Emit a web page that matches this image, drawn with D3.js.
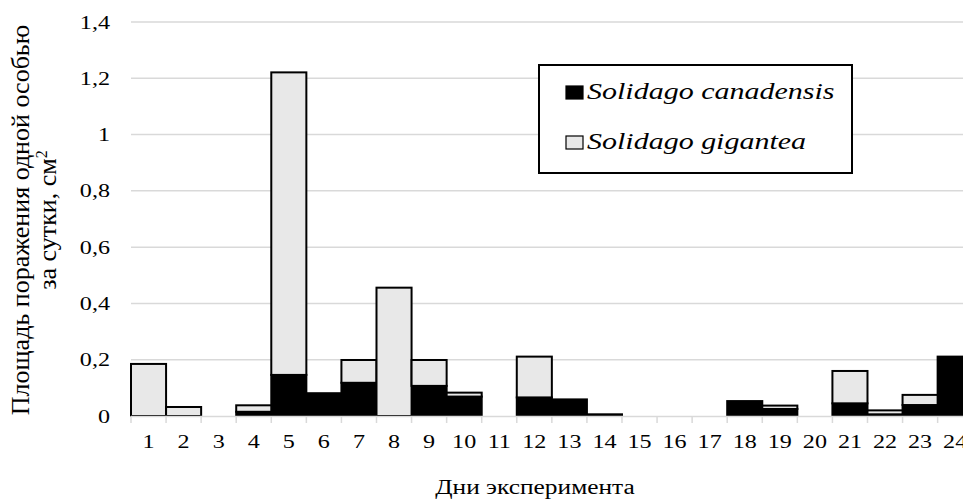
<!DOCTYPE html>
<html><head><meta charset="utf-8">
<script src="https://cdn.jsdelivr.net/npm/d3@7"></script>
<style>html,body{margin:0;padding:0;background:#fff;}</style></head>
<body><svg id="chart" width="963" height="499"></svg>
<script>
const days = ["1","2","3","4","5","6","7","8","9","10","11","12","13","14","15","16","17","18","19","20","21","22","23","24"];
const canadensis = [0, 0, 0, 0.015, 0.146, 0.081, 0.118, 0, 0.107, 0.069, 0, 0.066, 0.059, 0.006, 0, 0, 0, 0.053, 0.025, 0, 0.045, 0.006, 0.039, 0.211];
const gigantea = [0.185, 0.032, 0, 0.023, 1.075, 0, 0.081, 0.456, 0.092, 0.014, 0, 0.145, 0, 0, 0, 0, 0, 0, 0.012, 0, 0.115, 0.014, 0.036, 0];
const yTicks = [0, 0.2, 0.4, 0.6, 0.8, 1, 1.2, 1.4];
const seriesNames = ["Solidago canadensis", "Solidago gigantea"];
const yTitle1 = "Площадь поражения одной особью";
const yTitle2 = "за сутки, см";
const xTitle = "Дни эксперимента";

const FONT = "Liberation Serif";
const SX = 1.27; // horizontal stretch of the reference text
const svg = d3.select("#chart").attr("font-family", FONT);
const x = d3.scaleBand().domain(days).range([131, 972.7]).padding(0);
const y = d3.scaleLinear().domain([0, 1.4]).range([416, 22]);
const fmt = v => String(v).replace(".", ",");

// gridlines
svg.append("g").selectAll("line").data(yTicks.filter(d => d > 0)).join("line")
  .attr("x1", 131).attr("x2", 972.7)
  .attr("y1", d => y(d)).attr("y2", d => y(d))
  .attr("stroke", "#d9d9d9").attr("stroke-width", 1.5);

// y labels
svg.append("g").selectAll("text").data(yTicks).join("text")
  .attr("transform", d => `translate(110,${y(d) + 6.5}) scale(${SX},1)`)
  .attr("text-anchor", "end").attr("font-size", 19).attr("fill", "#000")
  .attr("font-family", FONT)
  .text(d => fmt(d));

// bars
const data = days.map((d, i) => ({day: d, c: canadensis[i], g: gigantea[i]}));
const stack = d3.stack().keys(["c", "g"])(data);
const fills = ["#000000", "#e8e8e8"];
stack.forEach((layer, li) => {
  svg.append("g").selectAll("rect").data(layer.filter(s => s[1] - s[0] > 0)).join("rect")
    .attr("x", s => x(s.data.day))
    .attr("width", x.bandwidth())
    .attr("y", s => y(s[1]))
    .attr("height", s => y(s[0]) - y(s[1]))
    .attr("fill", fills[li]).attr("stroke", "#000").attr("stroke-width", 2);
});

// x axis
const gx = svg.append("g");
gx.append("line").attr("x1", 131).attr("x2", 972.7).attr("y1", 416.5).attr("y2", 416.5)
  .attr("stroke", "#d9d9d9").attr("stroke-width", 1.5);
gx.selectAll("line.tk").data(d3.range(days.length + 1)).join("line").attr("class", "tk")
  .attr("x1", i => 131 + i * x.step()).attr("x2", i => 131 + i * x.step())
  .attr("y1", 416).attr("y2", 423).attr("stroke", "#d9d9d9").attr("stroke-width", 1.5);
gx.selectAll("text").data(days).join("text")
  .attr("transform", d => `translate(${x(d) + x.bandwidth() / 2},448) scale(${SX},1)`)
  .attr("text-anchor", "middle").attr("font-size", 19).attr("font-family", FONT).text(d => d);

// axis titles
svg.append("text").attr("transform", `translate(535,494) scale(${SX},1)`).attr("font-family", FONT)
  .attr("text-anchor", "middle").attr("font-size", 20).text(xTitle);
svg.append("text").attr("transform", "translate(29,220) rotate(-90)").attr("font-family", FONT)
  .attr("text-anchor", "middle").attr("font-size", 26).text(yTitle1);
const t2 = svg.append("text").attr("transform", "translate(56,220) rotate(-90)").attr("font-family", FONT)
  .attr("text-anchor", "middle").attr("font-size", 26);
t2.append("tspan").text(yTitle2);
t2.append("tspan").attr("dy", -9).attr("font-size", 16).text("2");

// legend
const lg = svg.append("g");
lg.append("rect").attr("x", 539).attr("y", 65).attr("width", 313).attr("height", 108)
  .attr("fill", "#fff").attr("stroke", "#000").attr("stroke-width", 2);
seriesNames.forEach((n, i) => {
  const base = 99 + i * 50;
  lg.append("rect").attr("x", 566).attr("y", base - 13).attr("width", 17).attr("height", 13)
    .attr("fill", fills[i]).attr("stroke", "#000").attr("stroke-width", 1.2);
  lg.append("text").attr("transform", `translate(587,${base}) scale(1.25,1)`).attr("font-family", FONT)
    .attr("font-size", 24).attr("font-style", "italic").text(n);
});
</script></body></html>
